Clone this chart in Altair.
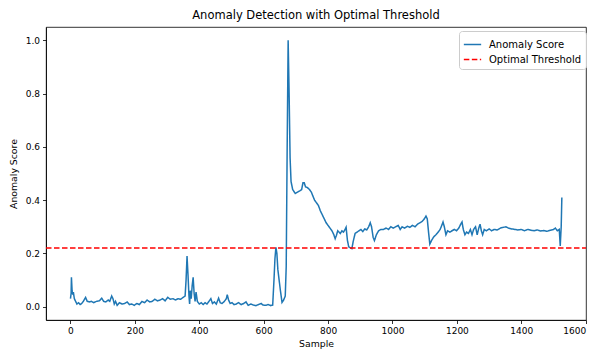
import altair as alt
import pandas as pd

# Anomaly score (sample index, score)
samples = [0, 2, 3, 5, 7, 9, 12, 16, 20, 25, 30, 35, 40, 47, 52, 58, 65, 72, 80, 90,
           97, 103, 110, 117, 122, 128, 132, 136, 140, 145, 152, 160, 168, 176, 183, 190,
           198, 206, 214, 222, 230, 238, 246, 254, 262, 270, 278, 286, 294, 302, 310, 318,
           326, 334, 342, 350, 356, 359, 362, 365, 368, 370, 372, 375, 378, 381, 384, 387,
           390, 394, 400, 406, 412, 418, 424, 430, 436, 441, 447, 453, 460, 465, 471, 478,
           484, 487, 491, 496, 502, 508, 515, 522, 530, 538, 545, 552, 560, 568, 576, 584,
           592, 598, 606, 614, 622, 628, 632, 635, 638, 641, 644, 648, 652, 657, 662, 667,
           670, 673, 676, 679, 682, 685, 690, 698, 705, 712, 718, 722, 726, 730, 736, 742,
           748, 753, 758, 764, 770, 776, 782, 788, 794, 800, 806, 812, 818, 822, 826, 830,
           834, 838, 843, 848, 852, 856, 860, 864, 870, 874, 878, 884, 890, 896, 902, 908,
           914, 920, 926, 931, 935, 940, 944, 950, 957, 964, 972, 980, 988, 995, 1002, 1010,
           1018, 1024, 1030, 1038, 1046, 1054, 1062, 1070, 1078, 1085, 1092, 1098, 1104,
           1108, 1112, 1116, 1122, 1128, 1135, 1142, 1148, 1153, 1157, 1161, 1166, 1171,
           1178, 1185, 1192, 1199, 1206, 1212, 1216, 1220, 1225, 1230, 1236, 1242, 1247,
           1252, 1258, 1263, 1268, 1272, 1276, 1280, 1285, 1292, 1300, 1308, 1316, 1325,
           1335, 1345, 1352, 1360, 1370, 1380, 1390, 1400, 1410, 1420, 1430, 1440, 1450,
           1460, 1470, 1480, 1490, 1500, 1506, 1512, 1518, 1521, 1524, 1526]
scores = [0.03, 0.05, 0.11, 0.06, 0.045, 0.055, 0.03, 0.02, 0.01, 0.015, 0.008, 0.012, 0.02,
          0.035, 0.02, 0.018, 0.02, 0.015, 0.02, 0.022, 0.032, 0.02, 0.018, 0.025, 0.02,
          0.04, 0.03, 0.01, 0.02, 0.005, 0.015, 0.01, 0.012, 0.018, 0.008, 0.01, 0.005,
          0.012, 0.008, 0.02, 0.015, 0.025, 0.018, 0.02, 0.028, 0.022, 0.025, 0.03, 0.022,
          0.035, 0.028, 0.03, 0.025, 0.03, 0.028, 0.035, 0.04, 0.1, 0.19, 0.12, 0.04, 0.01,
          0.06, 0.03, 0.08, 0.11, 0.05, 0.02, 0.055, 0.02, 0.01, 0.015, 0.008, 0.015, 0.01,
          0.02, 0.03, 0.012, 0.018, 0.01, 0.032, 0.015, 0.012, 0.02, 0.03, 0.045, 0.025,
          0.012, 0.015, 0.008, 0.01, 0.015, 0.008, 0.012, 0.018, 0.005, 0.01, 0.006, 0.004,
          0.008, 0.012, 0.006, 0.005, 0.008, 0.004, 0.006, 0.1, 0.18, 0.223, 0.2, 0.14, 0.1,
          0.06, 0.016, 0.025, 0.04, 0.15, 0.6, 1.0, 0.8, 0.56, 0.47, 0.44, 0.425, 0.43,
          0.435, 0.44, 0.465, 0.465, 0.45, 0.447, 0.44, 0.43, 0.415, 0.4, 0.39, 0.38, 0.36,
          0.345, 0.33, 0.315, 0.305, 0.295, 0.285, 0.27, 0.255, 0.268, 0.285, 0.28, 0.275,
          0.285, 0.28, 0.288, 0.298, 0.25, 0.225, 0.22, 0.218, 0.245, 0.275, 0.28, 0.285,
          0.29, 0.282, 0.292, 0.288, 0.3, 0.315, 0.3, 0.26, 0.248, 0.27, 0.285, 0.29, 0.29,
          0.295, 0.29, 0.3, 0.295, 0.3, 0.305, 0.29, 0.3, 0.295, 0.302, 0.298, 0.305, 0.3,
          0.31, 0.315, 0.32, 0.328, 0.34, 0.33, 0.28, 0.235, 0.25, 0.262, 0.27, 0.28, 0.29,
          0.305, 0.318, 0.3, 0.27, 0.285, 0.28, 0.285, 0.29, 0.285, 0.295, 0.31, 0.318,
          0.29, 0.27, 0.28, 0.275, 0.29, 0.27, 0.29, 0.3, 0.27, 0.295, 0.31, 0.285, 0.27,
          0.29, 0.285, 0.292, 0.285, 0.29, 0.288, 0.295, 0.298, 0.3, 0.295, 0.292, 0.29,
          0.288, 0.29, 0.285, 0.29, 0.287, 0.285, 0.288, 0.284, 0.286, 0.283, 0.287, 0.29,
          0.295, 0.285, 0.29, 0.228, 0.3, 0.41]

threshold = 0.22
x_domain = [-76, 1601]
y_domain = [-0.05, 1.05]
x_ticks = [0, 200, 400, 600, 800, 1000, 1200, 1400, 1600]
y_ticks = [0.0, 0.2, 0.4, 0.6, 0.8, 1.0]
series_names = ["Anomaly Score", "Optimal Threshold"]

score_df = pd.DataFrame({"Sample": samples, "Score": scores, "series": series_names[0]})
thr_df = pd.DataFrame({"Sample": x_domain, "Score": [threshold, threshold],
                       "series": series_names[1]})
df = pd.concat([score_df, thr_df], ignore_index=True)

font = "DejaVu Sans"

chart = alt.Chart(df).mark_line(strokeWidth=1.5, clip=True).encode(
    x=alt.X("Sample:Q", scale=alt.Scale(domain=x_domain, nice=False, zero=False),
            axis=alt.Axis(values=x_ticks, format="d", title="Sample", labelFlush=True)),
    y=alt.Y("Score:Q", scale=alt.Scale(domain=y_domain, nice=False, zero=False),
            axis=alt.Axis(values=y_ticks, format=".1f", title="Anomaly Score")),
    color=alt.Color("series:N",
                    scale=alt.Scale(domain=series_names, range=["#1f77b4", "#ff0000"]),
                    legend=alt.Legend(title=None, orient="none", legendX=413, legendY=4)),
    strokeDash=alt.StrokeDash("series:N",
                              scale=alt.Scale(domain=series_names, range=[[1, 0], [5.5, 2.5]]),
                              legend=alt.Legend(title=None, orient="none", legendX=413, legendY=4)),
    detail="series:N",
).properties(
    width=540, height=293,
    title=alt.TitleParams("Anomaly Detection with Optimal Threshold", fontSize=11.5,
                          font=font, fontWeight="normal", color="black", offset=6),
    autosize=alt.AutoSizeParams(type="none"),
    padding={"left": 38, "top": 19, "right": 1, "bottom": 35},
).configure_view(
    stroke="black", strokeWidth=0.8
).configure_axis(
    grid=False, domainColor="black", domainWidth=0.8, tickColor="black", tickWidth=0.8,
    tickSize=3.5, labelFont=font, labelFontSize=9, labelColor="black", labelPadding=3,
    titleFont=font, titleFontSize=9.3, titleFontWeight="normal", titleColor="black",
    labelOverlap=False
).configure_axisX(
    titlePadding=4
).configure_axisY(
    titlePadding=7, labelFlush=False
).configure_legend(
    fillColor="rgba(255,255,255,0.8)", strokeColor="#cccccc", cornerRadius=3, padding=4,
    symbolType="stroke", symbolSize=300, symbolStrokeWidth=1.5, labelFont=font,
    labelFontSize=10, labelColor="black", labelOffset=7, rowPadding=0
)

chart.save("out.html", embed_options={"renderer": "svg", "actions": False})
